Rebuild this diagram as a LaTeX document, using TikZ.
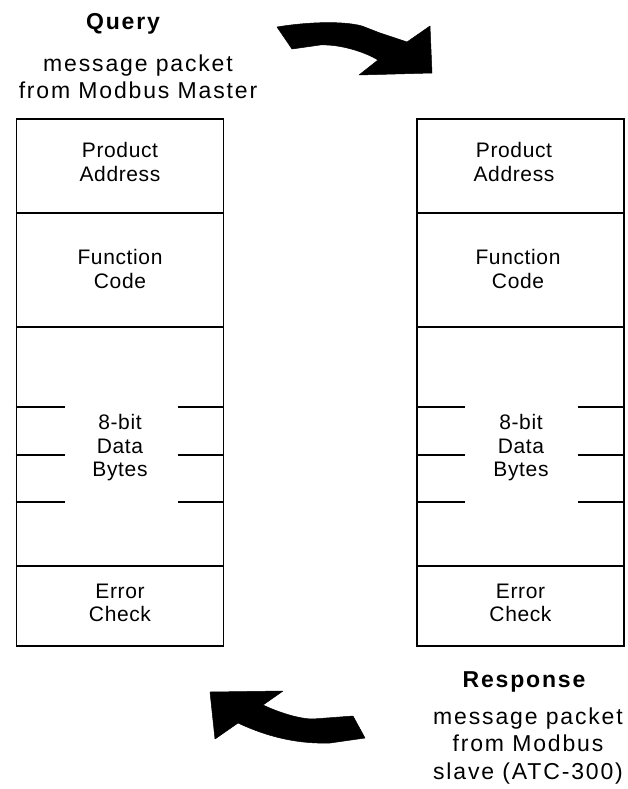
\documentclass[tikz,border=0pt]{standalone}
\usepackage{fontspec}
\setmainfont{Liberation Sans}
\begin{document}
\begin{tikzpicture}[x=1pt,y=-1pt,
  cell/.style={draw, line width=1.8pt, minimum width=207pt, inner sep=0pt},
  celltext/.style={align=center, inner sep=0pt, font=\fontsize{21}{23.5}\selectfont\addfontfeature{LetterSpace=3}},
  title/.style={inner sep=0pt, font=\fontsize{23}{27}\selectfont\bfseries\addfontfeature{LetterSpace=8}},
  subtitle/.style={align=center, inner sep=0pt, font=\fontsize{23}{27.5}\selectfont\addfontfeature{LetterSpace=8}},
  tick/.style={line width=1.8pt},
  bigarrow/.style={fill=black, draw=black, line width=0.5pt, line join=round}]
\useasboundingbox (0,0) rectangle (628,789);

% left packet
\node[cell, minimum height=94pt]  (lpa) at (120,166)   {};
\node[cell, minimum height=114pt] (lfc) at (120,270)   {};
\node[cell, minimum height=239pt] (ldb) at (120,446.5) {};
\node[cell, minimum height=80pt]  (lec) at (120,606)   {};
\node[celltext] (lpat) at (120,162) {Product\\Address};
\node[celltext] (lfct) at (120,269) {Function\\Code};
\node[celltext] (ldbt) at (120,448) {8-bit\\Data\\Bytes};
\node[celltext] (lect) at (120,603) {Error\\Check};
\foreach \y/\n in {407/a,455/b,502/c}{
  \coordinate (ll\n1) at (65,\y);
  \coordinate (lr\n1) at (178,\y);
  \draw[tick] (ldb.west |- ll\n1) -- (ll\n1);
  \draw[tick] (lr\n1) -- (ldb.east |- lr\n1);
}

% right packet
\node[cell, minimum height=94pt]  (rpa) at (520.5,166)   {};
\node[cell, minimum height=114pt] (rfc) at (520.5,270)   {};
\node[cell, minimum height=239pt] (rdb) at (520.5,446.5) {};
\node[cell, minimum height=80pt]  (rec) at (520.5,606)   {};
\node[celltext] (rpat) at (514,162) {Product\\Address};
\node[celltext] (rfct) at (518,269) {Function\\Code};
\node[celltext] (rdbt) at (521,448) {8-bit\\Data\\Bytes};
\node[celltext] (rect) at (520.5,603) {Error\\Check};
\foreach \y/\n in {407/a,455/b,502/c}{
  \coordinate (rl\n1) at (465,\y);
  \coordinate (rr\n1) at (578,\y);
  \draw[tick] (rdb.west |- rl\n1) -- (rl\n1);
  \draw[tick] (rr\n1) -- (rdb.east |- rr\n1);
}

% titles
\node[title] (qt) at (123,24) {Query};
\node[subtitle] (qs) at (138,77) {message packet\\from Modbus Master};
\node[title] (rt) at (524,682) {Response};
\node[subtitle] (rs) at (528,746) {message packet\\from Modbus\\slave (ATC-300)};

% curved arrows
\fill[bigarrow] (277,27) .. controls (300,23) and (340,20) .. (362,26)
  -- (380,33) -- (407,42) -- (430,26) -- (432,73) -- (359,75) -- (378,60)
  .. controls (365,52) and (340,44) .. (320,45)
  -- (292,49) -- cycle;
\fill[bigarrow] (210,692) -- (283,691) -- (263,705)
  .. controls (280,713) and (300,719) .. (313,719)
  -- (353,716) -- (365,738) -- (330,743)
  .. controls (300,744) and (270,738) .. (238,723)
  -- (215,739) -- cycle;
\end{tikzpicture}
\end{document}
